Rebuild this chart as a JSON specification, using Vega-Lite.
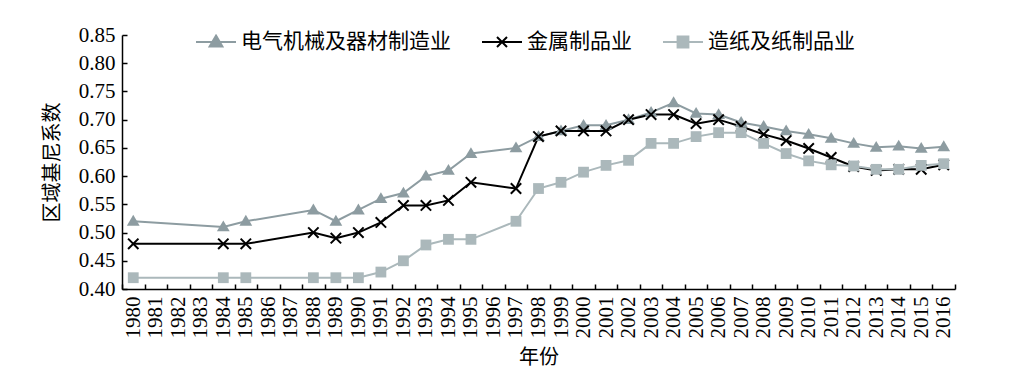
{
  "$schema": "https://vega.github.io/schema/vega-lite/v6.json",
  "width": 833,
  "height": 254,
  "autosize": "none",
  "padding": {"left": 122, "top": 35, "right": 58, "bottom": 87},
  "background": "white",
  "config": {
    "view": {"stroke": null},
    "font": "'Liberation Serif', 'Noto Sans CJK SC'",
    "axis": {"labelFont": "'Liberation Serif', 'Noto Sans CJK SC'", "titleFont": "'Liberation Serif', 'Noto Sans CJK SC'", "labelColor": "black", "titleColor": "black", "domainColor": "black", "tickColor": "black", "titleFontWeight": "normal", "labelFontSize": 21, "titleFontSize": 20, "grid": false}
  },
  "data": {"values": [
    {"year": 1980, "series": "电气机械及器材制造业", "value": 0.52},
    {"year": 1984, "series": "电气机械及器材制造业", "value": 0.51},
    {"year": 1985, "series": "电气机械及器材制造业", "value": 0.52},
    {"year": 1988, "series": "电气机械及器材制造业", "value": 0.54},
    {"year": 1989, "series": "电气机械及器材制造业", "value": 0.52},
    {"year": 1990, "series": "电气机械及器材制造业", "value": 0.54},
    {"year": 1991, "series": "电气机械及器材制造业", "value": 0.56},
    {"year": 1992, "series": "电气机械及器材制造业", "value": 0.57},
    {"year": 1993, "series": "电气机械及器材制造业", "value": 0.60},
    {"year": 1994, "series": "电气机械及器材制造业", "value": 0.61},
    {"year": 1995, "series": "电气机械及器材制造业", "value": 0.64},
    {"year": 1997, "series": "电气机械及器材制造业", "value": 0.65},
    {"year": 1998, "series": "电气机械及器材制造业", "value": 0.67},
    {"year": 1999, "series": "电气机械及器材制造业", "value": 0.68},
    {"year": 2000, "series": "电气机械及器材制造业", "value": 0.69},
    {"year": 2001, "series": "电气机械及器材制造业", "value": 0.69},
    {"year": 2002, "series": "电气机械及器材制造业", "value": 0.70},
    {"year": 2003, "series": "电气机械及器材制造业", "value": 0.713},
    {"year": 2004, "series": "电气机械及器材制造业", "value": 0.73},
    {"year": 2005, "series": "电气机械及器材制造业", "value": 0.711},
    {"year": 2006, "series": "电气机械及器材制造业", "value": 0.709},
    {"year": 2007, "series": "电气机械及器材制造业", "value": 0.695},
    {"year": 2008, "series": "电气机械及器材制造业", "value": 0.688},
    {"year": 2009, "series": "电气机械及器材制造业", "value": 0.68},
    {"year": 2010, "series": "电气机械及器材制造业", "value": 0.674},
    {"year": 2011, "series": "电气机械及器材制造业", "value": 0.667},
    {"year": 2012, "series": "电气机械及器材制造业", "value": 0.658},
    {"year": 2013, "series": "电气机械及器材制造业", "value": 0.651},
    {"year": 2014, "series": "电气机械及器材制造业", "value": 0.653},
    {"year": 2015, "series": "电气机械及器材制造业", "value": 0.649},
    {"year": 2016, "series": "电气机械及器材制造业", "value": 0.652},
    {"year": 1980, "series": "金属制品业", "value": 0.48},
    {"year": 1984, "series": "金属制品业", "value": 0.48},
    {"year": 1985, "series": "金属制品业", "value": 0.48},
    {"year": 1988, "series": "金属制品业", "value": 0.50},
    {"year": 1989, "series": "金属制品业", "value": 0.49},
    {"year": 1990, "series": "金属制品业", "value": 0.50},
    {"year": 1991, "series": "金属制品业", "value": 0.518},
    {"year": 1992, "series": "金属制品业", "value": 0.548},
    {"year": 1993, "series": "金属制品业", "value": 0.548},
    {"year": 1994, "series": "金属制品业", "value": 0.557},
    {"year": 1995, "series": "金属制品业", "value": 0.589},
    {"year": 1997, "series": "金属制品业", "value": 0.578},
    {"year": 1998, "series": "金属制品业", "value": 0.67},
    {"year": 1999, "series": "金属制品业", "value": 0.68},
    {"year": 2000, "series": "金属制品业", "value": 0.68},
    {"year": 2001, "series": "金属制品业", "value": 0.68},
    {"year": 2002, "series": "金属制品业", "value": 0.70},
    {"year": 2003, "series": "金属制品业", "value": 0.709},
    {"year": 2004, "series": "金属制品业", "value": 0.709},
    {"year": 2005, "series": "金属制品业", "value": 0.693},
    {"year": 2006, "series": "金属制品业", "value": 0.70},
    {"year": 2007, "series": "金属制品业", "value": 0.688},
    {"year": 2008, "series": "金属制品业", "value": 0.674},
    {"year": 2009, "series": "金属制品业", "value": 0.663},
    {"year": 2010, "series": "金属制品业", "value": 0.649},
    {"year": 2011, "series": "金属制品业", "value": 0.633},
    {"year": 2012, "series": "金属制品业", "value": 0.617},
    {"year": 2013, "series": "金属制品业", "value": 0.61},
    {"year": 2014, "series": "金属制品业", "value": 0.612},
    {"year": 2015, "series": "金属制品业", "value": 0.612},
    {"year": 2016, "series": "金属制品业", "value": 0.62},
    {"year": 1980, "series": "造纸及纸制品业", "value": 0.42},
    {"year": 1984, "series": "造纸及纸制品业", "value": 0.42},
    {"year": 1985, "series": "造纸及纸制品业", "value": 0.42},
    {"year": 1988, "series": "造纸及纸制品业", "value": 0.42},
    {"year": 1989, "series": "造纸及纸制品业", "value": 0.42},
    {"year": 1990, "series": "造纸及纸制品业", "value": 0.42},
    {"year": 1991, "series": "造纸及纸制品业", "value": 0.43},
    {"year": 1992, "series": "造纸及纸制品业", "value": 0.45},
    {"year": 1993, "series": "造纸及纸制品业", "value": 0.478},
    {"year": 1994, "series": "造纸及纸制品业", "value": 0.488},
    {"year": 1995, "series": "造纸及纸制品业", "value": 0.488},
    {"year": 1997, "series": "造纸及纸制品业", "value": 0.52},
    {"year": 1998, "series": "造纸及纸制品业", "value": 0.578},
    {"year": 1999, "series": "造纸及纸制品业", "value": 0.589},
    {"year": 2000, "series": "造纸及纸制品业", "value": 0.607},
    {"year": 2001, "series": "造纸及纸制品业", "value": 0.619},
    {"year": 2002, "series": "造纸及纸制品业", "value": 0.628},
    {"year": 2003, "series": "造纸及纸制品业", "value": 0.658},
    {"year": 2004, "series": "造纸及纸制品业", "value": 0.658},
    {"year": 2005, "series": "造纸及纸制品业", "value": 0.67},
    {"year": 2006, "series": "造纸及纸制品业", "value": 0.677},
    {"year": 2007, "series": "造纸及纸制品业", "value": 0.677},
    {"year": 2008, "series": "造纸及纸制品业", "value": 0.658},
    {"year": 2009, "series": "造纸及纸制品业", "value": 0.64},
    {"year": 2010, "series": "造纸及纸制品业", "value": 0.627},
    {"year": 2011, "series": "造纸及纸制品业", "value": 0.62},
    {"year": 2012, "series": "造纸及纸制品业", "value": 0.618},
    {"year": 2013, "series": "造纸及纸制品业", "value": 0.612},
    {"year": 2014, "series": "造纸及纸制品业", "value": 0.612},
    {"year": 2015, "series": "造纸及纸制品业", "value": 0.619},
    {"year": 2016, "series": "造纸及纸制品业", "value": 0.622}
  ]},
  "encoding": {
    "x": {
      "field": "year", "type": "ordinal", "title": "年份",
      "scale": {"type": "band", "paddingInner": 0, "paddingOuter": 0,
        "domain": [1980,1981,1982,1983,1984,1985,1986,1987,1988,1989,1990,1991,1992,1993,1994,1995,1996,1997,1998,1999,2000,2001,2002,2003,2004,2005,2006,2007,2008,2009,2010,2011,2012,2013,2014,2015,2016]},
      "axis": {"labelAngle": -90, "tickBand": "extent", "tickSize": -5, "labelPadding": 12, "titlePadding": 9, "domainWidth": 1.5, "tickWidth": 1.5, "labelBaseline": "middle"}
    },
    "y": {
      "field": "value", "type": "quantitative", "title": "区域基尼系数",
      "scale": {"domain": [0.4, 0.85], "nice": false, "zero": false},
      "axis": {"values": [0.4,0.45,0.5,0.55,0.6,0.65,0.7,0.75,0.8,0.85], "format": ".2f", "tickSize": -5, "labelPadding": 12, "titlePadding": 16, "domainWidth": 1.5, "tickWidth": 1.5}
    }
  },
  "layer": [
    {
      "mark": {"type": "line", "strokeWidth": 2},
      "encoding": {
        "color": {
          "field": "series", "type": "nominal",
          "scale": {"domain": ["电气机械及器材制造业", "金属制品业", "造纸及纸制品业"], "range": ["#8d9ca1", "#000000", "#abb8bb"]},
          "legend": {
            "orient": "none", "legendX": 73, "legendY": -14, "direction": "horizontal", "title": null,
            "symbolSize": 1600, "symbolStrokeWidth": 2, "labelFontSize": 21, "labelFont": "'Liberation Serif', 'Noto Sans CJK SC'", "labelColor": "black", "labelOffset": 4, "columnPadding": 27, "labelLimit": 400,
            "symbolType": "M-1,0L1,0",
            "encode": {"symbols": {"update": {
              "shape": {"signal": "datum.value === '金属制品业' ? 'M-1,0L1,0M-0.25,-0.25L0.25,0.25M-0.25,0.25L0.25,-0.25' : (datum.value === '电气机械及器材制造业' ? 'M-1,0L1,0M0,-0.32L0.32,0.22L-0.32,0.22Z' : 'M-1,0L1,0M-0.27,-0.27L0.27,-0.27L0.27,0.27L-0.27,0.27Z')"},
              "fill": {"signal": "datum.value === '金属制品业' ? 'transparent' : (datum.value === '电气机械及器材制造业' ? '#8d9ca1' : '#abb8bb')"},
              "fillOpacity": {"value": 1}
            }}}
          }
        }
      }
    },
    {
      "transform": [{"filter": "datum.series === '电气机械及器材制造业'"}],
      "mark": {"type": "point", "size": 1600, "filled": true, "opacity": 1, "color": "#8d9ca1", "shape": "M0,-0.32L0.32,0.22L-0.32,0.22Z"}
    },
    {
      "transform": [{"filter": "datum.series === '金属制品业'"}],
      "mark": {"type": "point", "size": 1600, "filled": false, "opacity": 1, "strokeWidth": 2, "color": "#000000", "shape": "M-0.26,-0.26L0.26,0.26M-0.26,0.26L0.26,-0.26"}
    },
    {
      "transform": [{"filter": "datum.series === '造纸及纸制品业'"}],
      "mark": {"type": "point", "size": 1600, "filled": true, "opacity": 1, "color": "#abb8bb", "shape": "M-0.27,-0.27L0.27,-0.27L0.27,0.27L-0.27,0.27Z"}
    }
  ]
}
